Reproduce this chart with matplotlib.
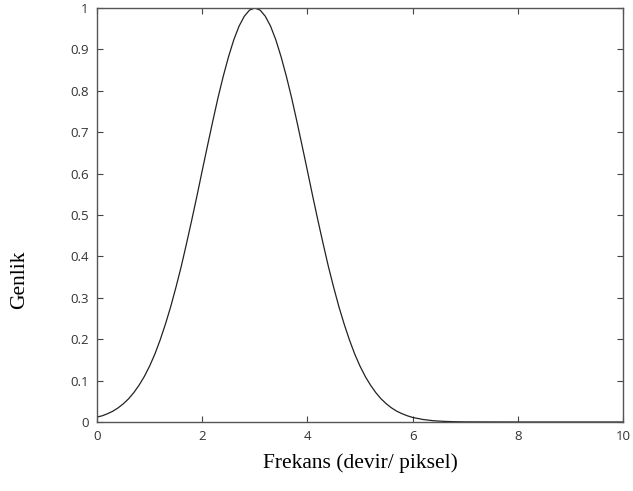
import matplotlib.pyplot as plt

freq = [0.0, 0.1, 0.2, 0.3, 0.4, 0.5, 0.6, 0.7, 0.8, 0.9,
        1.0, 1.1, 1.2, 1.3, 1.4, 1.5, 1.6, 1.7, 1.8, 1.9,
        2.0, 2.1, 2.2, 2.3, 2.4, 2.5, 2.6, 2.7, 2.8, 2.9,
        3.0, 3.1, 3.2, 3.3, 3.4, 3.5, 3.6, 3.7, 3.8, 3.9,
        4.0, 4.1, 4.2, 4.3, 4.4, 4.5, 4.6, 4.7, 4.8, 4.9,
        5.0, 5.1, 5.2, 5.3, 5.4, 5.5, 5.6, 5.7, 5.8, 5.9,
        6.0, 6.2, 6.4, 6.6, 6.8, 7.0, 8.0, 9.0, 10.0]
genlik = [0.012, 0.015, 0.020, 0.026, 0.034, 0.044, 0.056, 0.071, 0.089, 0.110,
          0.135, 0.164, 0.198, 0.236, 0.278, 0.325, 0.375, 0.430, 0.487, 0.546,
          0.607, 0.667, 0.726, 0.783, 0.835, 0.882, 0.923, 0.956, 0.980, 0.995,
          1.000, 0.995, 0.980, 0.956, 0.923, 0.882, 0.835, 0.783, 0.726, 0.667,
          0.607, 0.546, 0.487, 0.430, 0.375, 0.325, 0.278, 0.236, 0.198, 0.164,
          0.135, 0.110, 0.089, 0.071, 0.056, 0.044, 0.034, 0.026, 0.020, 0.015,
          0.011, 0.006, 0.003, 0.0015, 0.0007, 0.0003, 0.0, 0.0, 0.0]

xticks = [0, 2, 4, 6, 8, 10]
yticks = [0, 0.1, 0.2, 0.3, 0.4, 0.5, 0.6, 0.7, 0.8, 0.9, 1]
yticklabels = ['0', '0.1', '0.2', '0.3', '0.4', '0.5', '0.6', '0.7', '0.8', '0.9', '1']

fig = plt.figure(figsize=(6.33, 4.91), dpi=100)
ax = fig.add_axes([97 / 633, 1 - 422 / 491, 526 / 633, 414 / 491])

ax.plot(freq, genlik, color='#222222', linewidth=0.9)

ax.set_xlim(0, 10)
ax.set_ylim(0, 1)
ax.set_xticks(xticks)
ax.set_xticklabels([str(t) for t in xticks])
ax.set_yticks(yticks)
ax.set_yticklabels(yticklabels)
ax.tick_params(direction='in', top=True, right=True, length=4, width=0.8,
               labelsize=9.5, color='#444444', labelcolor='#333333')
ax.tick_params(axis='x', pad=6)
ax.tick_params(axis='y', pad=6)
for lab in ax.get_xticklabels() + ax.get_yticklabels():
    lab.set_family('Open Sans')
for s in ax.spines.values():
    s.set_linewidth(1.0)
    s.set_color('#555555')

fig.text(360 / 633, 1 - 463 / 491, 'Frekans (devir/ piksel)', ha='center', va='center',
         family='Liberation Serif', fontsize=15.5)
fig.text(20 / 633, 1 - 280 / 491, 'Genlik', ha='center', va='center', rotation=90,
         family='Liberation Serif', fontsize=15.5)

fig.savefig('out.png', dpi=100)
